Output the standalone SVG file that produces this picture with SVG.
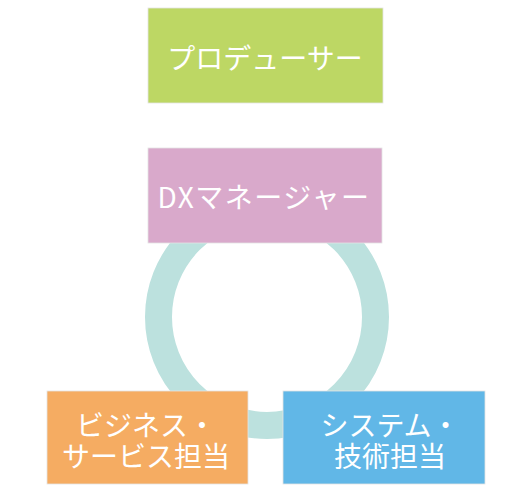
<svg xmlns="http://www.w3.org/2000/svg" width="518" height="494" viewBox="0 0 518 494">
<style>
.box{stroke:#e4e4e4;stroke-width:0.8}
.t{font-family:"Noto Sans CJK JP","Noto Sans",sans-serif;font-size:28px;fill:#ffffff;text-anchor:middle;dominant-baseline:central}
</style>
<rect width="518" height="494" fill="#ffffff"/>
<g id="connectors">
<circle cx="267" cy="317" r="108.5" fill="none" stroke="#bce1de" stroke-width="27"/>
</g>
<g id="producer">
<rect class="box" x="148" y="8" width="235" height="95" fill="#bdd764"/>
<text class="t" x="265" y="57">プロデューサー</text>
</g>
<g id="dx-manager">
<rect class="box" x="148" y="148" width="234" height="95" fill="#d9a9cb"/>
<text class="t" x="264" y="196" letter-spacing="1.5">DXマネージャー</text>
</g>
<g id="business">
<rect class="box" x="47" y="391" width="201" height="93" fill="#f5ac62"/>
<text class="t"><tspan x="146" y="424">ビジネス・</tspan><tspan x="146" y="455">サービス担当</tspan></text>
</g>
<g id="system">
<rect class="box" x="283" y="391" width="202" height="93" fill="#61b7e7"/>
<text class="t"><tspan x="390" y="424">システム・</tspan><tspan x="390" y="455">技術担当</tspan></text>
</g>
</svg>
